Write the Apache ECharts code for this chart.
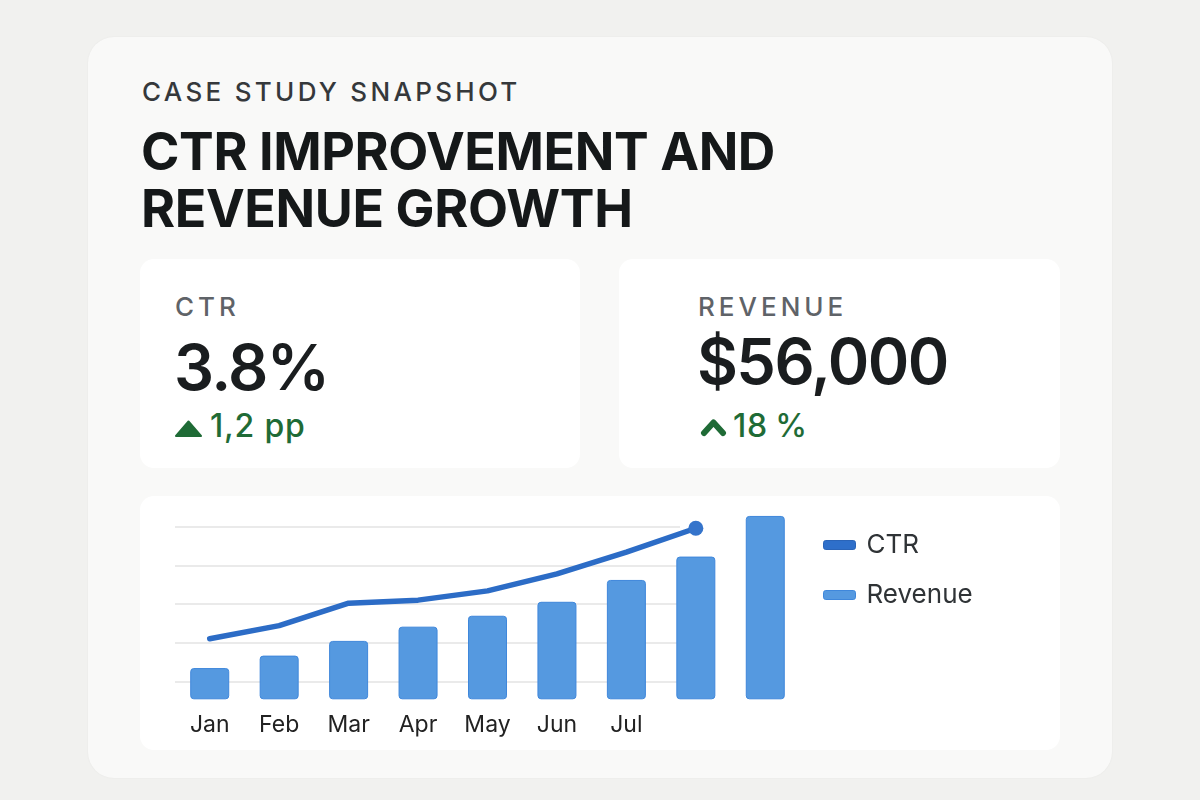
<!DOCTYPE html>
<html>
<head>
<meta charset="utf-8">
<title>CTR Improvement and Revenue Growth</title>
<script src="https://cdn.jsdelivr.net/npm/echarts@6.0.0/dist/echarts.min.js"></script>
<style>
  html, body { margin: 0; padding: 0; }
  body {
    width: 1200px; height: 800px; position: relative; overflow: hidden;
    background: #f1f1ef; font-family: Inter, "Noto Sans", sans-serif;
  }
  .abs { position: absolute; white-space: nowrap; }
  .outer { left: 88px; top: 37px; width: 1024px; height: 741px; background: #f9f9f8; border-radius: 26px; box-shadow: 0 0 2px rgba(0,0,0,0.05); }
  .card { background: #ffffff; border-radius: 14px; }
  .eyebrow { left: 142px; top: 79px; font-size: 26px; line-height: 26px; letter-spacing: 3.3px; color: #35383b; font-weight: 500; }
  .title { left: 141px; top: 123px; font-size: 52px; line-height: 57px; font-weight: 700; color: #151819; letter-spacing: -0.4px; }
  .label { font-size: 26px; line-height: 26px; letter-spacing: 4px; color: #5f6368; font-weight: 500; }
  .big { font-size: 63px; line-height: 63px; font-weight: 600; color: #1a1d1f; letter-spacing: -1.6px; }
  .delta { font-size: 32px; line-height: 32px; color: #1f6b36; font-weight: 500; letter-spacing: 0.8px; }
</style>
</head>
<body>
<div class="abs outer"></div>
<div class="abs eyebrow">CASE STUDY SNAPSHOT</div>
<div class="abs title">CTR IMPROVEMENT AND<br>REVENUE GROWTH</div>

<div class="abs card" style="left:140px; top:259px; width:440px; height:209px;"></div>
<div class="abs label" style="left:175px; top:294px;">CTR</div>
<div class="abs big" style="left:174px; top:336px;">3.8%</div>
<svg class="abs" style="left:175px; top:419px;" width="30" height="20"><path d="M13.5 2.5 L26 17 L1 17 Z" fill="#1f6b36" stroke="#1f6b36" stroke-width="2" stroke-linejoin="round"/></svg>
<div class="abs delta" style="left:210px; top:410px;">1,2 pp</div>

<div class="abs card" style="left:619px; top:259px; width:441px; height:209px;"></div>
<div class="abs label" style="left:698px; top:294px;">REVENUE</div>
<div class="abs big" style="left:697px; top:330px;">$56,000</div>
<svg class="abs" style="left:700px; top:416px;" width="28" height="22"><path d="M4 17 L13.5 6.5 L23 17" fill="none" stroke="#1f6b36" stroke-width="6" stroke-linecap="round" stroke-linejoin="round"/></svg>
<div class="abs delta" style="left:733px; top:410px; word-spacing:-2px;">18 %</div>

<div class="abs card" style="left:140px; top:496px; width:920px; height:254px;"></div>
<div id="chart" class="abs" style="left:140px; top:496px; width:920px; height:254px;"></div>

<script>
var months = ['Jan', 'Feb', 'Mar', 'Apr', 'May', 'Jun', 'Jul', 'Aug', 'Sep'];
var tickLabels = ['Jan', 'Feb', 'Mar', 'Apr', 'May', 'Jun', 'Jul'];
// revenue in $k, CTR in %
var revenue = [12.3, 17.2, 23.0, 28.6, 32.9, 38.4, 47.0, 56.2, 72.2];
var ctr = [2.55, 2.72, 3.01, 3.05, 3.17, 3.39, 3.67, 3.98];
var gridTicks = [2, 4, 0.5]; // min, max, step of the light guide lines (CTR %)

var chart = echarts.init(document.getElementById('chart'));

var ctrData = [];
for (var i = 0; i < ctr.length; i++) {
  if (i === ctr.length - 1) {
    ctrData.push({ value: ctr[i], symbol: 'circle', symbolSize: 15 });
  } else {
    ctrData.push({ value: ctr[i], symbol: 'none' });
  }
}

chart.setOption({
  animation: false,
  textStyle: { fontFamily: 'Inter' },
  legend: {
    orient: 'vertical',
    left: 678,
    top: 31,
    itemWidth: 32,
    itemHeight: 9,
    itemGap: 24,
    textStyle: { fontSize: 26, color: '#2f3336', padding: [0, 0, 0, 6] },
    data: [
      { name: 'CTR', icon: 'roundRect', itemStyle: { color: '#2e6fca', borderColor: '#2a64b8', borderWidth: 1 } },
      { name: 'Revenue', icon: 'roundRect', itemStyle: { color: '#5599e0', borderColor: '#3f87db', borderWidth: 1 } }
    ]
  },
  grid: [
    { left: 35, top: 10.3, width: 625, height: 193 },
    { left: 35, top: 30.7, width: 505, height: 154.6, z: 0 }
  ],
  xAxis: [
    {
      type: 'category', gridIndex: 0, data: months,
      axisLine: { show: false }, axisTick: { show: false },
      axisLabel: {
        fontSize: 23, color: '#222', margin: 14,
        formatter: function (v, idx) { return tickLabels[idx] || ''; }
      }
    },
    { type: 'value', gridIndex: 1, min: 0, max: 1, show: false }
  ],
  yAxis: [
    { type: 'value', gridIndex: 0, min: 0, max: 76, show: false },
    { type: 'value', gridIndex: 0, min: 1.767, max: 4.264, show: false },
    {
      type: 'value', gridIndex: 1, min: gridTicks[0], max: gridTicks[1], interval: gridTicks[2],
      axisLine: { show: false }, axisTick: { show: false }, axisLabel: { show: false },
      splitLine: { show: true, lineStyle: { color: '#e3e3e3', width: 1.5 } }
    }
  ],
  series: [
    {
      name: 'Revenue', type: 'bar', xAxisIndex: 0, yAxisIndex: 0,
      barWidth: 39, data: revenue, z: 2,
      itemStyle: { color: '#5599e0', borderColor: '#3f87db', borderWidth: 1, borderRadius: 3 }
    },
    {
      name: 'CTR', type: 'line', xAxisIndex: 0, yAxisIndex: 1,
      data: ctrData, z: 3, clip: false,
      lineStyle: { color: '#2c6cc6', width: 5.5, cap: 'round', join: 'round' },
      itemStyle: { color: '#3574cb' }
    }
  ]
});
</script>
</body>
</html>
